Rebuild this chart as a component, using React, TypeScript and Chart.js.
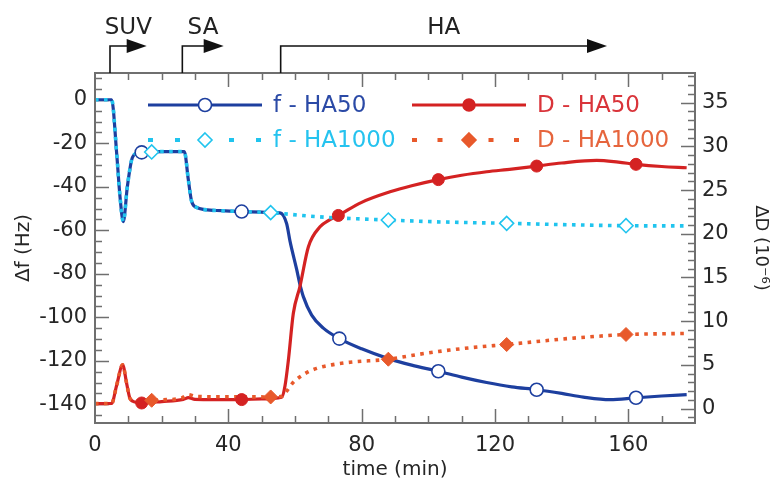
import React, { useEffect, useRef } from 'react';
import { Chart, registerables } from 'chart.js';

Chart.register(...registerables);

// ---------- data ----------
const xTickValues = [0, 40, 80, 120, 160];
const leftTickValues = [-140, -120, -100, -80, -60, -40, -20, 0];
const rightTickValues = [0, 5, 10, 15, 20, 25, 30, 35];

const fHA50Time = [0, 5, 6.5, 7.5, 8.5, 9.7, 11, 12.5, 14, 17, 20, 26.8, 28, 29, 30.5, 33, 38, 44, 50, 52.7, 55.5, 57.5, 58.5, 60.5, 61.5, 62.5, 65, 68.5, 73.3, 80, 88, 95, 103, 110, 117.5, 125, 132.5, 140, 146.5, 154.5, 162.3, 170, 177.5];
const fHA50 = [0, 0, -24.6, -44.5, -56, -40, -27.6, -24.6, -24.2, -24, -23.8, -23.8, -36.8, -46.8, -49.5, -50.5, -51, -51.4, -51.7, -51.9, -52, -57, -65, -78, -85, -90.5, -99, -105, -109.8, -114.5, -119, -122, -124.8, -127.5, -130, -132, -133.3, -135, -136.7, -137.9, -137, -136.2, -135.6];
const fHA50Marks = [14, 44, 73.3, 103, 132.5, 162.3];

const fHA1000Time = [0, 5, 6.5, 7.5, 8.5, 9.7, 11, 12.5, 14, 17, 20, 26.8, 28, 29, 30.5, 33, 38, 44, 50, 52.7, 56, 62, 70, 80, 88, 100, 110, 123.5, 140, 159.3, 177.5];
const fHA1000 = [0, 0, -24.6, -44.5, -56, -40, -27.6, -24.6, -24.2, -24, -23.8, -23.8, -36.8, -46.8, -49.5, -50.5, -51, -51.4, -51.7, -51.9, -52.3, -53.2, -54.1, -54.8, -55.3, -56, -56.4, -56.8, -57.4, -57.9, -58];
const fHA1000Marks = [17, 52.7, 88, 123.5, 159.3];

const dHA50Time = [0, 5, 6.5, 8.3, 9.5, 10.5, 12, 14, 20, 26.5, 28, 30, 36, 44, 50, 56, 57, 58, 59.5, 61.5, 64, 67.5, 70, 73, 80, 88.5, 95, 103, 110, 117.5, 125, 132.5, 140, 150.5, 157, 162.3, 170, 177.5];
const dHA50 = [0.57, 0.6, 2.67, 5.0, 2.86, 1.15, 0.75, 0.64, 0.8, 1.05, 1.25, 1.05, 1.02, 1.03, 1.1, 1.3, 2.6, 5.5, 10.9, 14.0, 18.5, 20.8, 21.5, 22.1, 23.6, 24.8, 25.5, 26.2, 26.7, 27.1, 27.4, 27.75, 28.1, 28.4, 28.2, 27.95, 27.7, 27.56];
const dHA50Marks = [14, 44, 73, 103, 132.5, 162.3];

const dHA1000Time = [0, 5, 6.5, 8.3, 9.5, 10.5, 12, 14, 17, 20, 26, 28, 30, 36, 44, 52.7, 56, 57.5, 59.5, 63, 66.5, 71, 76.5, 88, 97, 106.5, 115, 123.5, 132, 141.5, 150, 159.3, 168, 177.5];
const dHA1000 = [0.57, 0.6, 2.67, 5.0, 2.86, 1.15, 0.85, 0.85, 0.95, 1.0, 1.2, 1.6, 1.4, 1.35, 1.35, 1.33, 1.4, 2.0, 3.0, 4.0, 4.6, 5.0, 5.3, 5.65, 6.2, 6.7, 7.05, 7.33, 7.65, 8.0, 8.25, 8.48, 8.55, 8.6];
const dHA1000Marks = [17, 52.7, 88, 123.5, 159.3];

const phaseLabels = ['SUV', 'SA', 'HA'];
const phaseStart = [4.5, 26.2, 55.7];
const phaseEnd = [15.5, 38.6, 153.6];

const legendLabels = ['f - HA50', 'D - HA50', 'f - HA1000', 'D - HA1000'];

// ---------- styles ----------
const FONT = "'DejaVu Sans', 'Liberation Sans', sans-serif";
const C_FBLUE = '#1d3f9f';
const C_FCYAN = '#20c4ee';
const C_DRED = '#d42222';
const C_DORANGE = '#e8592b';
const TXT = '#262626';

const pts = (ts: number[], vs: number[]) => ts.map((t, i) => ({ x: t, y: vs[i] }));
const marks = (ts: number[], vs: number[], m: number[]) => pts(ts, vs).filter((p) => m.includes(p.x));

function drawMarker(ctx: CanvasRenderingContext2D, kind: string, x: number, y: number, r: number, fill: string, stroke: string) {
  ctx.beginPath();
  if (kind === 'circle') {
    ctx.arc(x, y, r, 0, Math.PI * 2);
  } else {
    ctx.moveTo(x, y - r);
    ctx.lineTo(x + r, y);
    ctx.lineTo(x, y + r);
    ctx.lineTo(x - r, y);
    ctx.closePath();
  }
  ctx.fillStyle = fill;
  ctx.fill();
  ctx.lineWidth = 1.6;
  ctx.strokeStyle = stroke;
  ctx.stroke();
}

const decorPlugin = {
  id: 'decor',
  beforeDatasetsDraw(chart: any) {
    const { ctx, chartArea: a, scales } = chart;
    const xs = scales.x, ys = scales.y, y1s = scales.y1;
    ctx.save();
    ctx.strokeStyle = '#6f6f6f';
    ctx.lineWidth = 1.5;
    ctx.beginPath();
    for (let t = 10; t < 180; t += 10) {
      const px = Math.round(xs.getPixelForValue(t)) + 0.5;
      const len = t % 40 === 0 ? 14 : 7;
      ctx.moveTo(px, a.bottom);
      ctx.lineTo(px, a.bottom - len);
      ctx.moveTo(px, a.top);
      ctx.lineTo(px, a.top + len);
    }
    for (let v = -145; v <= 10; v += 5) {
      const py = Math.round(ys.getPixelForValue(v)) + 0.5;
      const len = v % 20 === 0 ? 14 : 7;
      ctx.moveTo(a.left, py);
      ctx.lineTo(a.left + len, py);
    }
    for (let v = -1; v <= 38; v += 1) {
      const py = Math.round(y1s.getPixelForValue(v)) + 0.5;
      const len = v % 5 === 0 ? 14 : 7;
      ctx.moveTo(a.right, py);
      ctx.lineTo(a.right - len, py);
    }
    ctx.stroke();
    ctx.restore();
  },
  afterDatasetsDraw(chart: any) {
    const { ctx, chartArea: a, scales } = chart;
    const xs = scales.x;
    ctx.save();
    // frame
    ctx.strokeStyle = '#6f6f6f';
    ctx.lineWidth = 2;
    ctx.strokeRect(a.left, a.top, a.right - a.left, a.bottom - a.top);

    // phase arrows at top
    ctx.strokeStyle = '#111';
    ctx.fillStyle = '#111';
    ctx.lineWidth = 1.6;
    const lineY = a.top - 27;
    phaseLabels.forEach((lab, i) => {
      const x0 = xs.getPixelForValue(phaseStart[i]);
      const x1 = xs.getPixelForValue(phaseEnd[i]);
      ctx.beginPath();
      ctx.moveTo(x0, a.top);
      ctx.lineTo(x0, lineY);
      ctx.lineTo(x1 - 18, lineY);
      ctx.stroke();
      ctx.beginPath();
      ctx.moveTo(x1, lineY);
      ctx.lineTo(x1 - 20, lineY - 7);
      ctx.lineTo(x1 - 20, lineY + 7);
      ctx.closePath();
      ctx.fill();
      ctx.font = `23px ${FONT}`;
      ctx.textAlign = 'center';
      ctx.textBaseline = 'middle';
      ctx.fillStyle = '#222';
      ctx.fillText(lab, (x0 + x1) / 2, a.top - 45);
      ctx.fillStyle = '#111';
    });

    // legend
    const rows = [a.top + 32, a.top + 67];
    const cols = [a.left + 53, a.left + 317];
    const entries = [
      { col: 0, row: 0, color: C_FBLUE, text: '#2b4aa6', dash: [] as number[], lw: 3, kind: 'circle', fill: '#fff', r: 6.5 },
      { col: 1, row: 0, color: C_DRED, text: '#d9343a', dash: [] as number[], lw: 3, kind: 'circle', fill: C_DRED, r: 6 },
      { col: 0, row: 1, color: C_FCYAN, text: '#25c3ef', dash: [5, 22], lw: 4, kind: 'diamond', fill: '#fff', r: 7 },
      { col: 1, row: 1, color: C_DORANGE, text: '#e6653d', dash: [5, 20.5], lw: 4, kind: 'diamond', fill: C_DORANGE, r: 7 },
    ];
    entries.forEach((e, i) => {
      const x0 = cols[e.col];
      const y = rows[e.row];
      ctx.save();
      ctx.beginPath();
      ctx.setLineDash(e.dash);
      ctx.lineWidth = e.lw;
      ctx.strokeStyle = e.color;
      ctx.moveTo(x0, y);
      ctx.lineTo(x0 + 114, y);
      ctx.stroke();
      ctx.restore();
      drawMarker(ctx, e.kind, x0 + 57, y, e.r, e.fill, e.color);
      ctx.font = `23px ${FONT}`;
      ctx.textAlign = 'left';
      ctx.textBaseline = 'middle';
      ctx.fillStyle = e.text;
      ctx.fillText(legendLabels[i], x0 + 125, y + 1);
    });
    ctx.restore();
  },
};

export default function App() {
  const ref = useRef<HTMLCanvasElement>(null);
  useEffect(() => {
    const tickFont = { family: FONT, size: 21 };
    const chart = new Chart(ref.current as HTMLCanvasElement, {
      type: 'line',
      data: {
        datasets: [
          { data: pts(fHA50Time, fHA50), yAxisID: 'y', borderColor: C_FBLUE, borderWidth: 3.2, pointRadius: 0, cubicInterpolationMode: 'monotone', order: 8 } as any,
          { data: pts(dHA50Time, dHA50), yAxisID: 'y1', borderColor: C_DRED, borderWidth: 3.2, pointRadius: 0, cubicInterpolationMode: 'monotone', order: 7 } as any,
          { data: pts(fHA1000Time, fHA1000), yAxisID: 'y', borderColor: C_FCYAN, borderWidth: 3.6, borderDash: [3.6, 5.4], borderCapStyle: 'butt', pointRadius: 0, cubicInterpolationMode: 'monotone', order: 6 } as any,
          { data: pts(dHA1000Time, dHA1000), yAxisID: 'y1', borderColor: C_DORANGE, borderWidth: 3.6, borderDash: [3.6, 5.4], borderCapStyle: 'butt', pointRadius: 0, cubicInterpolationMode: 'monotone', order: 5 } as any,
          { data: marks(fHA50Time, fHA50, fHA50Marks), yAxisID: 'y', showLine: false, pointStyle: 'circle', pointRadius: 6.5, pointBackgroundColor: '#fff', pointBorderColor: C_FBLUE, pointBorderWidth: 1.6, order: 4 } as any,
          { data: marks(dHA50Time, dHA50, dHA50Marks), yAxisID: 'y1', showLine: false, pointStyle: 'circle', pointRadius: 6, pointBackgroundColor: C_DRED, pointBorderColor: C_DRED, pointBorderWidth: 1, order: 3 } as any,
          { data: marks(fHA1000Time, fHA1000, fHA1000Marks), yAxisID: 'y', showLine: false, pointStyle: 'rectRot', pointRadius: 7, pointBackgroundColor: '#fff', pointBorderColor: C_FCYAN, pointBorderWidth: 1.6, order: 2 } as any,
          { data: marks(dHA1000Time, dHA1000, dHA1000Marks), yAxisID: 'y1', showLine: false, pointStyle: 'rectRot', pointRadius: 7, pointBackgroundColor: C_DORANGE, pointBorderColor: C_DORANGE, pointBorderWidth: 1, order: 1 } as any,
        ],
      },
      options: {
        responsive: false,
        devicePixelRatio: 1,
        animation: false,
        events: [],
        layout: { padding: { top: 73, left: 0, right: 0, bottom: 0 } },
        plugins: { legend: { display: false }, tooltip: { enabled: false } },
        scales: {
          x: {
            type: 'linear', position: 'bottom', min: 0, max: 180,
            afterBuildTicks: (s: any) => { s.ticks = xTickValues.map((v) => ({ value: v })); },
            afterFit: (s: any) => { s.height = 61; },
            grid: { display: false, drawTicks: false },
            border: { display: false },
            ticks: { font: tickFont, color: TXT, padding: 10, maxRotation: 0, autoSkip: false },
            title: { display: true, text: 'time (min)', font: { family: FONT, size: 20 }, color: TXT, padding: { top: 0, bottom: 2 } },
          },
          y: {
            type: 'linear', position: 'left', min: -148.6, max: 12.3,
            afterBuildTicks: (s: any) => { s.ticks = leftTickValues.map((v) => ({ value: v })); },
            afterFit: (s: any) => { s.width = 95; },
            grid: { display: false, drawTicks: false },
            border: { display: false },
            ticks: { font: tickFont, color: TXT, padding: 8, autoSkip: false },
            title: { display: true, text: 'Δf (Hz)', font: { family: FONT, size: 20 }, color: TXT, padding: { top: 12, bottom: 0 } },
          },
          y1: {
            type: 'linear', position: 'right', min: -1.65, max: 38.4,
            afterBuildTicks: (s: any) => { s.ticks = rightTickValues.map((v) => ({ value: v })); },
            afterFit: (s: any) => { s.width = 84; },
            grid: { display: false, drawTicks: false },
            border: { display: false },
            ticks: { font: tickFont, color: TXT, padding: 7, autoSkip: false },
            title: { display: true, text: 'ΔD (10⁻⁶)', font: { family: FONT, size: 18 }, color: TXT, padding: { top: 8, bottom: 0 } },
          },
        },
      } as any,
      plugins: [decorPlugin],
    });
    return () => chart.destroy();
  }, []);
  return (
    <div style={{ position: 'fixed', left: 0, top: 0, width: 779, height: 484, background: '#fff' }}>
      <canvas ref={ref} width={779} height={484} style={{ display: 'block', width: 779, height: 484 }} />
    </div>
  );
}
